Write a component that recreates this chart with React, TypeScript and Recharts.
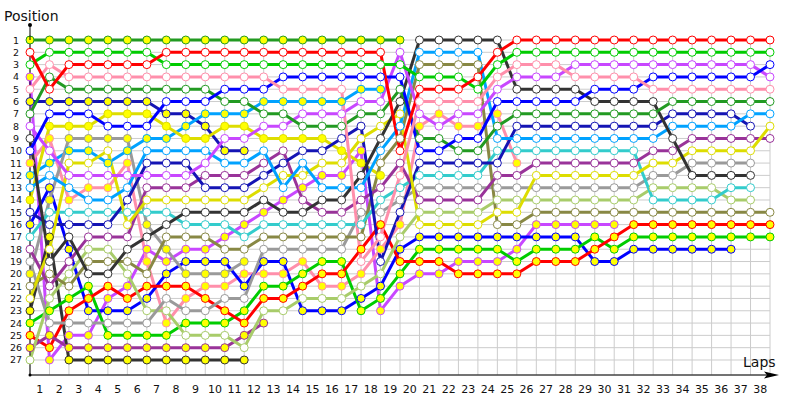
import { LineChart, Line, XAxis, YAxis, CartesianGrid } from 'recharts'

const _ = null

// laps 0..38 (0 = grid)
const LAPS = Array.from({ length: 39 }, (_v, i) => i)
const POSITIONS = Array.from({ length: 27 }, (_v, i) => i + 1)

// positions per lap, yellow-dot drivers
const forestY = [1, 1, 1, 1, 1, 1, 1, 1, 1, 1, 1, 1, 1, 1, 1, 1, 1, 1, 1, 1]
const violetY = [4, 27, 25, 25, 22, 21, 18, 19, 18, 18, 17, 16, 15, 14, 13, 12, 12, 10, 23, 21, 20, 20, 19, 19, 19, 18, 16, 16, 16, 16, 16]
const navyY = [6, 6, 6, 6, 6, 6, 6, 7, 7, 8, 10, 10]
const pinkY = [11, 9, 14, 13, 13, 11, 19, 24, 22, 21, 21, 20, 20, 20, 19, 21, 21, 20, 18, 16, 8, 7, 8, 8, 7, 11]
const skyY = [12, 11, 10, 10, 11, 10, 9, 9, 8, 7, 7, 7, 6, 6, 6, 6, 6, 5, 5]
const yellowY = [14, 8, 8, 8, 7, 7, 7, 8, 9, 9, 8, 8, 9, 9, 9, 9, 10, 11, 12]
const blueY = [16, 13, 18, 23, 23, 23, 22, 20, 19, 19, 19, 21, 19, 19, 23, 23, 23, 22, 21, 18, 17, 17, 17, 17, 17, 17, 17, 17, 17, 19, 19, 18, 18, 18, 18, 18, 18]
const grayY = [20, 14, 9, 9, 9, 9, 16, 18, 20, 20, 20, 19]
const darkY = [23, 17, 27, 27, 27, 27, 27, 27, 27, 27, 27, 27]
const greenY = [24, 23, 22, 21, 25, 25, 25, 25, 24, 24, 24, 23, 21, 21, 20, 19, 19, 23, 22, 20, 18, 18, 18, 18, 18, 19, 18, 18, 18, 17, 18, 17, 17, 17, 17, 17, 17, 17, 17]
const redY = [25, 26, 23, 22, 21, 22, 21, 21, 21, 22, 23, 24, 22, 22, 21, 20, 20, 18, 16, 19, 19, 19, 20, 20, 20, 20, 19, 19, 19, 18, 17, 16, 16, 16, 16, 16, 16, 16, 16]
const purpleY = [26, 25, 26, 26, 26, 26, 26, 26, 26, 26, 26, 25, 24]

// positions per lap, white-dot drivers
const redW = [2, 5, 3, 3, 3, 3, 3, 2, 2, 2, 2, 2, 2, 2, 2, 2, 2, 2, 2, 10, 5, 5, 5, 4, 2, 1, 1, 1, 1, 1, 1, 1, 1, 1, 1, 1, 1, 1, 1]
const greenW = [3, 2, 2, 2, 2, 2, 2, 3, 3, 3, 3, 3, 3, 3, 3, 3, 3, 3, 3, 3, 4, 4, 4, 5, 3, 2, 2, 2, 2, 2, 2, 2, 2, 2, 2, 2, 2, 2, 2]
const pinkW = [5, 3, 4, 4, 4, 4, 4, 4, 4, 4, 4, 4, 4, 5, 5, 5, 5, 19, 17, 12, 6, 6, 6, 6, 4, 3, 3, 3, 4, 4, 4, 4, 5, 5, 5, 5, 5, 5, 5]
const blueW = [10, 7, 7, 7, 8, 8, 8, 6, 6, 6, 5, 5, 5, 4, 4, 4, 4, 4, 4, 4, 10, 10, 9, 9, 6, 6, 6, 6, 6, 5, 5, 5, 4, 4, 4, 4, 4, 4, 3]
const forestW = [7, 4, 5, 5, 5, 5, 5, 5, 5, 5, 6, 6, 7, 7, 8, 8, 8, 7, 7, 5, 9, 9, 10, 10, 8, 7, 7, 7, 7, 7, 7, 7, 7, 6, 6, 6, 6, 6, 6]
const violetW = [8, 10, 12, 12, 12, 12, 12, 12, 12, 11, 9, 9, 8, 8, 7, 7, 7, 6, 6, 2, 7, 8, 7, 7, 5, 4, 4, 4, 3, 3, 3, 3, 3, 3, 3, 3, 3, 3, 4]
const darkW = [9, 19, 17, 20, 20, 18, 17, 16, 15, 15, 15, 15, 14, 15, 15, 14, 14, 12, 9, 6, 1, 1, 1, 1, 1, 5, 5, 5, 5, 6, 6, 6, 6, 9, 12, 12, 12, 12, _]
const skyW = [13, 12, 13, 14, 14, 13, 10, 10, 10, 10, 11, 11, 10, 13, 11, 13, 13, 13, 10, 8, 2, 2, 2, 2, 9, 9, 9, 9, 9, 9, 9, 9, 9, 8, 8, 8, 8, 7, 7]
const yellowW = [22, 18, 11, 11, 10, 16, 14, 14, 14, 14, 14, 14, 13, 12, 12, 11, 11, 9, 8, 7, 16, 16, 16, 16, 15, 15, 12, 12, 12, 12, 12, 12, 11, 11, 10, 10, 10, 10, 8]
const navyW = [15, 16, 16, 16, 16, 14, 11, 11, 11, 13, 13, 13, 12, 11, 10, 10, 9, 8, 19, 15, 11, 11, 11, 11, 11, 8, 8, 8, 8, 8, 8, 8, 8, 7, 7, 7, 7, 8, _]
const lightGreenW = [27, 22, 20, 18, 18, 20, 23, 23, 25, 25, 25, 26, 23, 23, 22, 22, 22, 21, 20, 17, 15, 15, 15, 15, 14, 14, 14, 14, 14, 14, 14, 14, 13, 13, 13, 13, 14, 14, _]
const purpleW = [18, 21, 19, 17, 17, 17, 13, 13, 13, 12, 12, 12, 11, 10, 14, 15, 15, 14, 13, 11, 14, 14, 14, 14, 12, 12, 11, 11, 11, 11, 11, 11, 10, 10, 9, 9, 9, 9, 9]
const cyanW = [17, 15, 15, 15, 15, 15, 15, 15, 16, 16, 16, 17, 16, 16, 16, 16, 16, 16, 14, 13, 12, 12, 12, 12, 10, 10, 10, 10, 10, 10, 10, 10, 14, 14, 14, 14, 13, 13, _]
const grayW = [19, 24, 24, 24, 24, 24, 24, 22, 23, 23, 22, 22, 18, 18, 18, 18, 18, 15, 15, 14, 13, 13, 13, 13, 13, 13, 13, 13, 13, 13, 13, 13, 12, 12, 11, 11, 11, 11, _]
const oliveW = [21, 20, 21, 19, 19, 19, 20, 17, 17, 17, 18, 18, 17, 17, 17, 17, 17, 17, 11, 9, 3, 3, 3, 3, 16, 16, 15, 15, 15, 15, 15, 15, 15, 15, 15, 15, 15, 15, 15]

const FOREST = '#229a22'
const RED = '#ff0000'
const GREEN = '#00cc00'
const VIOLET = '#c847ff'
const PINK = '#ff8fab'
const NAVY = '#1414b4'
const BLUE = '#0000ff'
const SKY = '#00a2ff'
const YELLOW = '#dddd00'
const DARK = '#333333'
const CYAN = '#33cccc'
const PURPLE = '#993399'
const GRAY = '#9a9a9a'
const OLIVE = '#888844'
const LIGHTGREEN = '#a8cc6a'

const DOT_Y = '#ffff00'
const DOT_W = '#ffffff'

const DRIVERS = [
  { key: 'forestY', values: forestY, color: FOREST, dot: DOT_Y },
  { key: 'violetY', values: violetY, color: VIOLET, dot: DOT_Y },
  { key: 'navyY', values: navyY, color: NAVY, dot: DOT_Y },
  { key: 'pinkY', values: pinkY, color: PINK, dot: DOT_Y },
  { key: 'skyY', values: skyY, color: SKY, dot: DOT_Y },
  { key: 'yellowY', values: yellowY, color: YELLOW, dot: DOT_Y },
  { key: 'blueY', values: blueY, color: BLUE, dot: DOT_Y },
  { key: 'grayY', values: grayY, color: GRAY, dot: DOT_Y },
  { key: 'darkY', values: darkY, color: DARK, dot: DOT_Y },
  { key: 'greenY', values: greenY, color: GREEN, dot: DOT_Y },
  { key: 'redY', values: redY, color: RED, dot: DOT_Y },
  { key: 'purpleY', values: purpleY, color: PURPLE, dot: DOT_Y },
  { key: 'lightGreenW', values: lightGreenW, color: LIGHTGREEN, dot: DOT_W },
  { key: 'grayW', values: grayW, color: GRAY, dot: DOT_W },
  { key: 'oliveW', values: oliveW, color: OLIVE, dot: DOT_W },
  { key: 'cyanW', values: cyanW, color: CYAN, dot: DOT_W },
  { key: 'purpleW', values: purpleW, color: PURPLE, dot: DOT_W },
  { key: 'navyW', values: navyW, color: NAVY, dot: DOT_W },
  { key: 'yellowW', values: yellowW, color: YELLOW, dot: DOT_W },
  { key: 'skyW', values: skyW, color: SKY, dot: DOT_W },
  { key: 'darkW', values: darkW, color: DARK, dot: DOT_W },
  { key: 'violetW', values: violetW, color: VIOLET, dot: DOT_W },
  { key: 'forestW', values: forestW, color: FOREST, dot: DOT_W },
  { key: 'blueW', values: blueW, color: BLUE, dot: DOT_W },
  { key: 'pinkW', values: pinkW, color: PINK, dot: DOT_W },
  { key: 'greenW', values: greenW, color: GREEN, dot: DOT_W },
  { key: 'redW', values: redW, color: RED, dot: DOT_W },
]

const FONT = '"DejaVu Sans", Verdana, sans-serif'

export default function App() {
  const rows = LAPS.map((lap, i) => {
    const row: Record<string, number | null> = { lap }
    DRIVERS.forEach((d) => {
      const v = d.values[i]
      row[d.key] = v === undefined ? null : v
    })
    return row
  })

  return (
    <div style={{ position: 'absolute', left: 0, top: 0, width: 800, height: 400, background: '#fff' }}>
      <LineChart
        width={800}
        height={400}
        data={rows}
        margin={{ top: 40, right: 0, bottom: 0, left: 0 }}
      >
        <CartesianGrid stroke="#cccccc" strokeWidth={1} />
        <XAxis
          dataKey="lap"
          type="number"
          domain={[0, 38]}
          ticks={LAPS}
          interval={0}
          height={25}
          axisLine={{ stroke: '#000' }}
          tickLine={false}
          tick={(p: any) =>
            p.payload.value === 0 ? (
              <g />
            ) : (
              <text x={p.x - 9.7} y={393} textAnchor="middle" fontSize={11} fontFamily={FONT} fill="#111">
                {p.payload.value}
              </text>
            )
          }
        />
        <YAxis
          type="number"
          domain={[1, 28.22]}
          reversed
          ticks={POSITIONS}
          interval={0}
          width={30}
          axisLine={{ stroke: '#000' }}
          tickLine={false}
          tick={(p: any) => (
            <text x={16} y={p.y + 3.5} textAnchor="middle" fontSize={9.5} fontFamily={FONT} fill="#111">
              {p.payload.value}
            </text>
          )}
        />
        <YAxis
          yAxisId="right"
          orientation="right"
          type="number"
          domain={[1, 28.22]}
          reversed
          ticks={POSITIONS}
          interval={0}
          width={30}
          axisLine={false}
          tickLine={false}
          tick={(p: any) => (
            <text x={778} y={p.y + 3.5} textAnchor="start" fontSize={9.5} fontFamily={FONT} fill="#111">
              {p.payload.value}
            </text>
          )}
        />
        {DRIVERS.map((d) => (
          <Line
            key={d.key}
            dataKey={d.key}
            type="linear"
            stroke={d.color}
            strokeWidth={3}
            dot={{ r: 4, fill: d.dot, stroke: d.color, strokeWidth: 1 }}
            activeDot={false}
            connectNulls={false}
            isAnimationActive={false}
          />
        ))}
      </LineChart>
      <svg
        width={800}
        height={400}
        style={{ position: 'absolute', left: 0, top: 0, pointerEvents: 'none' }}
      >
        <text x={4} y={21} fontSize={14} fontFamily={FONT} fill="#111">Position</text>
        <text x={743} y={367} fontSize={14} fontFamily={FONT} fill="#111">Laps</text>
        <line x1={30} y1={25} x2={30} y2={40} stroke="#000" />
        <circle cx={30} cy={25} r={2} fill="#000" />
        <circle cx={30} cy={375} r={1.5} fill="#000" />
        <line x1={770} y1={375} x2={770} y2={375} stroke="#000" />
        <line x1={770} y1={375} x2={768} y2={375} stroke="#000" />
        <polygon points="764,371.5 779,375 764,378.5 767,375" fill="#000" />
      </svg>
    </div>
  )
}
